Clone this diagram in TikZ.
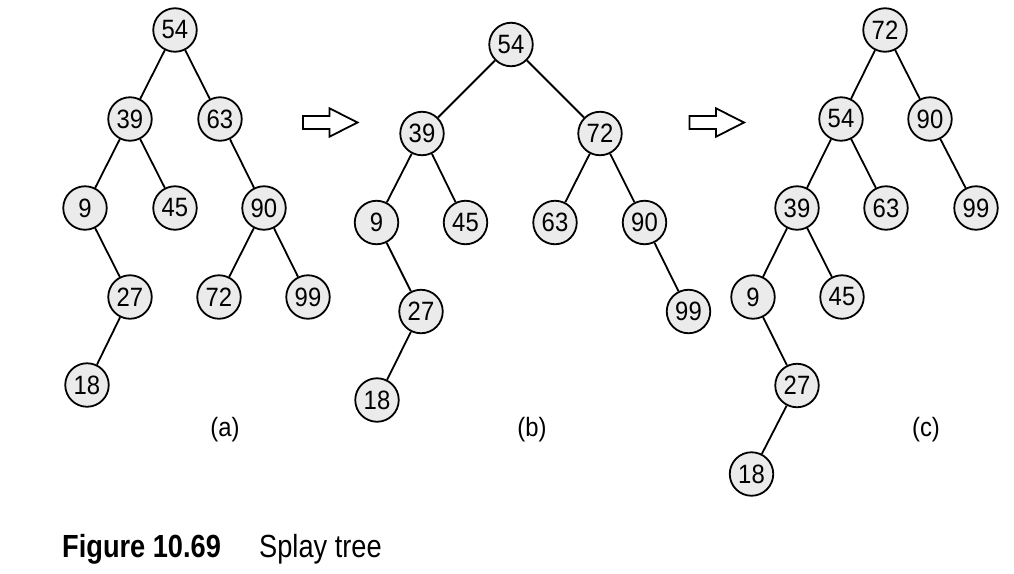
\documentclass[tikz,border=0pt]{standalone}
\usepackage{fontspec}
\setmainfont{Liberation Sans}
\newfontfamily\capfont[FakeStretch=0.85]{Liberation Sans}
\newfontfamily\nodefont[FakeStretch=0.9]{Liberation Sans}
\begin{document}
\begin{tikzpicture}[x=1pt,y=-1pt,
  tn/.style={circle,draw=black,line width=1.8pt,fill=nodegray,minimum size=43.5pt,inner sep=0pt,font=\nodefont\fontsize{26.5}{30}\selectfont},
  edge/.style={line width=1.8pt},
  lbl/.style={font=\nodefont\fontsize{26.5}{30}\selectfont,inner sep=0pt},
  pics/fatarrow/.style={code={
    \draw[line width=1.8pt,fill=white,line join=miter] (0,-6.5) -- (26.5,-6.5) -- (26.5,-14.2) -- (54.5,0) -- (26.5,14.2) -- (26.5,6.5) -- (0,6.5) -- cycle;}}
]
\definecolor{nodegray}{HTML}{EBEBEB}
\useasboundingbox (0,0) rectangle (1014,573);
% ---------- tree (a)
\node[tn] (a54) at (175,30) {54};
\node[tn] (a39) at (130,119) {39};
\node[tn] (a63) at (220,119) {63};
\node[tn] (a9)  at (85,208) {9};
\node[tn] (a45) at (175,208) {45};
\node[tn] (a90) at (264,208) {90};
\node[tn] (a27) at (130,297) {27};
\node[tn] (a72) at (219,297) {72};
\node[tn] (a99) at (308,297) {99};
\node[tn] (a18) at (87,385) {18};
\draw[edge] (a54)--(a39) (a54)--(a63) (a39)--(a9) (a39)--(a45) (a63)--(a90)
  (a9)--(a27) (a90)--(a72) (a90)--(a99) (a27)--(a18);
\node[lbl] (la) at (225,430) {(a)};
% ---------- tree (b)
\node[tn] (b54) at (511,44.5) {54};
\node[tn] (b39) at (422,133.5) {39};
\node[tn] (b72) at (600,133.5) {72};
\node[tn] (b9)  at (376.5,222.5) {9};
\node[tn] (b45) at (465.5,222.5) {45};
\node[tn] (b63) at (555,222.5) {63};
\node[tn] (b90) at (644.5,222.5) {90};
\node[tn] (b27) at (421,311.5) {27};
\node[tn] (b99) at (688.5,311.5) {99};
\node[tn] (b18) at (377,400) {18};
\draw[edge] (b54)--(b39) (b54)--(b72) (b39)--(b9) (b39)--(b45) (b72)--(b63)
  (b72)--(b90) (b9)--(b27) (b90)--(b99) (b27)--(b18);
\node[lbl] (lb) at (532,430) {(b)};
% ---------- tree (c)
\node[tn] (c72) at (885,30) {72};
\node[tn] (c54) at (841,119) {54};
\node[tn] (c90) at (930,119) {90};
\node[tn] (c39) at (797,208) {39};
\node[tn] (c63) at (886,208) {63};
\node[tn] (c99) at (976,208) {99};
\node[tn] (c9)  at (753,297) {9};
\node[tn] (c45) at (842,297) {45};
\node[tn] (c27) at (797,385.5) {27};
\node[tn] (c18) at (751.5,474) {18};
\draw[edge] (c72)--(c54) (c72)--(c90) (c54)--(c39) (c54)--(c63) (c90)--(c99)
  (c39)--(c9) (c39)--(c45) (c9)--(c27) (c27)--(c18);
\node[lbl] (lc) at (926,430) {(c)};
% ---------- arrows
\pic at (303,122.5) {fatarrow};
\pic at (689.5,122.5) {fatarrow};
% ---------- caption
\node[anchor=base west,inner sep=0pt,font=\capfont\bfseries\fontsize{32}{36}\selectfont] (cap1) at (62,557) {Figure 10.69};
\node[anchor=base west,inner sep=0pt,font=\capfont\fontsize{32}{36}\selectfont] (cap2) at (259,557) {Splay tree};
\end{tikzpicture}
\end{document}
